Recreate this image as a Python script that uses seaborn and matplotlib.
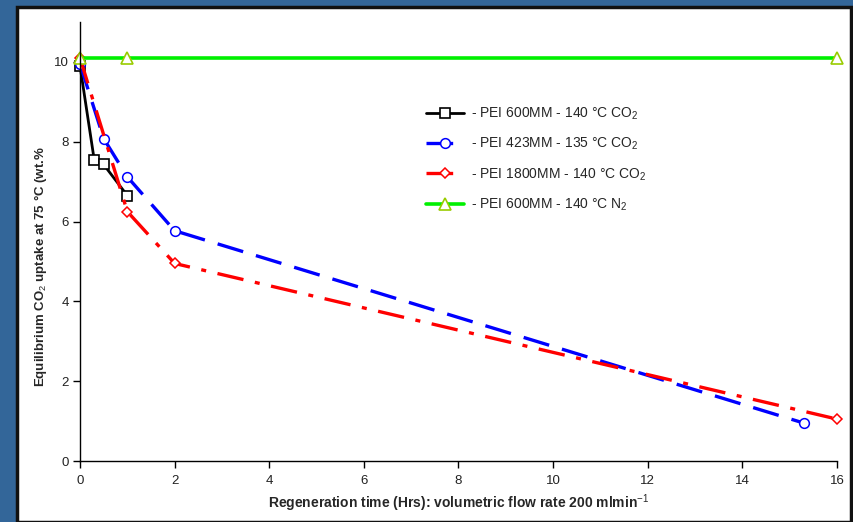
import matplotlib
matplotlib.use("Agg")
import matplotlib.pyplot as plt
import seaborn as sns
import pandas as pd
from matplotlib import font_manager
from matplotlib.patches import Rectangle

# ---- data ----
t_600_co2 = [0, 0.3, 0.5, 1.0]
u_600_co2 = [9.9, 7.55, 7.43, 6.65]
t_423_co2 = [0, 0.5, 1.0, 2.0, 15.3]
u_423_co2 = [9.95, 8.08, 7.12, 5.77, 0.95]
t_1800_co2 = [0, 1.0, 2.0, 16.0]
u_1800_co2 = [10.1, 6.25, 4.95, 1.05]
t_600_n2 = [0, 1.0, 16.0]
u_600_n2 = [10.1, 10.1, 10.1]

labels = ["- PEI 600MM - 140 °C CO$_2$",
          "- PEI 423MM - 135 °C CO$_2$",
          "- PEI 1800MM - 140 °C CO$_2$",
          "- PEI 600MM - 140 °C N$_2$"]
x_ticks = [0, 2, 4, 6, 8, 10, 12, 14, 16]
y_ticks = [0, 2, 4, 6, 8, 10]
xlabel = "Regeneration time (Hrs): volumetric flow rate 200 mlmin$^{-1}$"
ylabel = "Equilibrium CO$_2$ uptake at 75 °C (wt.%"

sns.set_theme(style="white")
names = {f.name for f in font_manager.fontManager.ttflist}
narrow = "Liberation Sans Narrow" if "Liberation Sans Narrow" in names else "Liberation Sans"
plt.rcParams['font.family'] = ["Liberation Sans", "DejaVu Sans"]
plt.rcParams['mathtext.fontset'] = 'custom'
plt.rcParams['mathtext.rm'] = 'Liberation Sans'

W, H = 854, 522
fig = plt.figure(figsize=(W / 100, H / 100), dpi=100)
fig.patch.set_facecolor("#336699")
fig.patches.append(Rectangle((17 / W, 0), (851 - 17) / W, (522 - 7) / H,
                             transform=fig.transFigure, facecolor="white",
                             edgecolor="#111111", linewidth=2.5, zorder=-5))

ax = fig.add_axes([80 / W, (H - 461) / H, (837 - 80) / W, (461 - 22) / H])
ax.set_facecolor("none")
ax.set_zorder(2)

series = [
    (t_600_co2, u_600_co2, dict(color="black", linestyle="-", linewidth=2,
                               marker="s", markersize=7, markerfacecolor="white",
                               markeredgecolor="black", markeredgewidth=1.2)),
    (t_423_co2, u_423_co2, dict(color="#0000ff", linestyle=(0, (8, 4)), linewidth=2.4,
                               marker="o", markersize=7, markerfacecolor="white",
                               markeredgecolor="#0000ff", markeredgewidth=1.1)),
    (t_1800_co2, u_1800_co2, dict(color="#ff0000", linestyle=(0, (8, 3.5, 1.5, 3.5)), linewidth=2.4,
                                 marker="D", markersize=5, markerfacecolor="white",
                                 markeredgecolor="#ff0000", markeredgewidth=1.1)),
    (t_600_n2, u_600_n2, dict(color="#00f000", linestyle="-", linewidth=2.6,
                             marker="^", markersize=8, markerfacecolor="white",
                             markeredgecolor="#99cc00", markeredgewidth=1.2)),
]
for (x, y, kw), lab in zip(series, labels):
    df = pd.DataFrame({"t": x, "u": y})
    sns.lineplot(data=df, x="t", y="u", ax=ax, sort=False, label=lab,
                 clip_on=False, **kw)

ax.set_xlim(0, 16)
ax.set_ylim(0, 11)
ax.set_xticks(x_ticks)
ax.set_yticks(y_ticks)
ax.set_xticklabels([str(v) for v in x_ticks], fontfamily=narrow, fontsize=9.5)
ax.set_yticklabels([str(v) for v in y_ticks], fontfamily=narrow, fontsize=9.5)
for s in ["top", "right"]:
    ax.spines[s].set_visible(False)
for s in ["left", "bottom"]:
    ax.spines[s].set_color("black")
    ax.spines[s].set_linewidth(1.0)
ax.tick_params(axis="both", direction="out", length=5, width=1, color="black",
               labelcolor="#222222", left=True, bottom=True)
ax.tick_params(axis="x", pad=5)
ax.tick_params(axis="y", pad=3)

ax.set_xlabel(xlabel, fontfamily=narrow, fontsize=10, fontweight="bold", labelpad=4)
ax.set_ylabel(ylabel, fontsize=9.5, fontweight="bold")
ax.yaxis.set_label_coords(-0.041, 0.444)

leg = ax.legend(loc="upper left", bbox_to_anchor=(0.441, 0.838), frameon=False,
                fontsize=10, handlelength=2.7, labelspacing=1.0, handletextpad=0.5)

fig.savefig("out.png", dpi=100, facecolor=fig.get_facecolor())
